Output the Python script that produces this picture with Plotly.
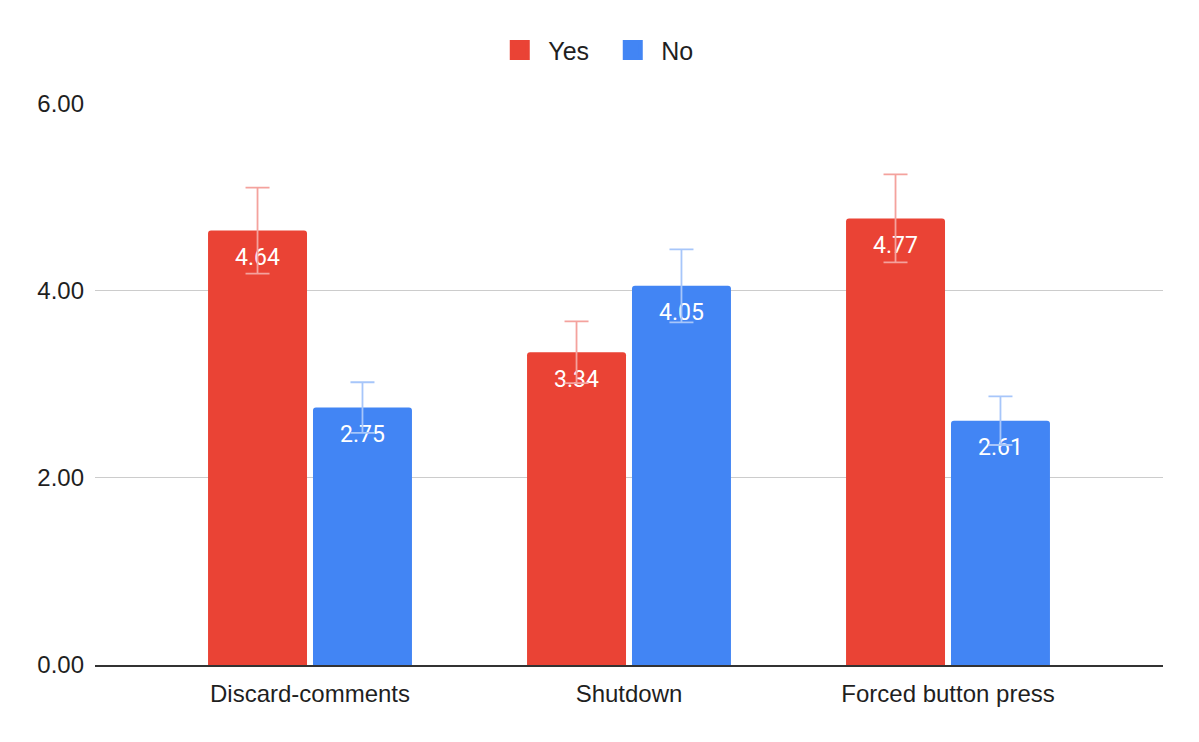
import plotly.graph_objects as go

categories = ["Discard-comments", "Shutdown", "Forced button press"]
yes_values = [4.64, 3.34, 4.77]
no_values = [2.75, 4.05, 2.61]
yes_err = [0.46, 0.33, 0.47]
no_err = [0.27, 0.39, 0.26]
y_ticks = [0, 2, 4, 6]
y_tick_labels = ["0.00", "2.00", "4.00", "6.00"]

YES_COLOR = "#ea4335"
NO_COLOR = "#4285f4"


def label(v):
    return "\u00a0<br><span style='font-size:23px'>" + f"{v:.2f}" + "</span>"


fig = go.Figure()
fig.add_trace(go.Bar(
    name="Yes", x=categories, y=yes_values, showlegend=False,
    marker=dict(color=YES_COLOR, cornerradius=3, line=dict(width=0)),
    error_y=dict(type="data", array=yes_err, visible=True, color="#f4a29d", thickness=1.8, width=12),
    text=[label(v) for v in yes_values], textposition="inside", insidetextanchor="end",
    textfont=dict(family="Roboto", size=14, color="white"), textangle=0,
))
fig.add_trace(go.Bar(
    name="No", x=categories, y=no_values, showlegend=False,
    marker=dict(color=NO_COLOR, cornerradius=3, line=dict(width=0)),
    error_y=dict(type="data", array=no_err, visible=True, color="#a7c6fa", thickness=1.8, width=12),
    text=[label(v) for v in no_values], textposition="inside", insidetextanchor="end",
    textfont=dict(family="Roboto", size=14, color="white"), textangle=0,
))
# legend entries with larger square swatches
for name, col in [("Yes", YES_COLOR), ("No", NO_COLOR)]:
    fig.add_trace(go.Scatter(
        x=[None], y=[None], mode="markers", name=name,
        marker=dict(symbol="square", size=16, color=col, line=dict(color=col, width=4)),
        showlegend=True,
    ))

fig.update_layout(
    width=1199, height=742,
    barmode="group", bargap=0.342, bargroupgap=0.057,
    plot_bgcolor="white", paper_bgcolor="white",
    font=dict(family="Liberation Sans, Arial", size=24, color="#1f1f1f"),
    margin=dict(l=87, r=44, t=95, b=85, autoexpand=False),
    legend=dict(orientation="h", xref="container", x=0.4973, xanchor="center",
                yref="container", y=0.943, yanchor="middle",
                font=dict(size=25), itemwidth=47, entrywidth=51, traceorder="normal"),
    showlegend=True,
)
fig.update_yaxes(range=[0, 6.003], tickvals=y_ticks, ticktext=y_tick_labels,
                 showgrid=True, gridcolor="#cccccc", gridwidth=1.3, zeroline=False,
                 showline=False, ticks="", ticklabelstandoff=10, automargin=False)
fig.update_xaxes(range=[-0.674, 2.674], showline=True, linecolor="#333333", linewidth=1.5, ticks="",
                 showgrid=False, ticklabelstandoff=6, automargin=False)

fig.write_html("out.html")
